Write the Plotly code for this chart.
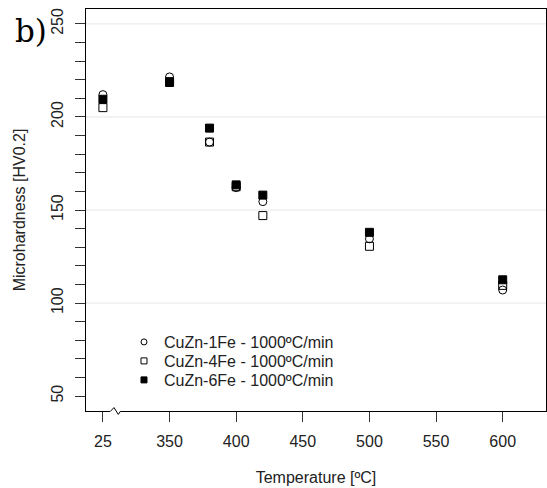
import plotly.graph_objects as go

# Annealing temperature (ºC) and Vickers microhardness (HV0.2)
temperatures = [25, 350, 380, 400, 420, 500, 600]
hv_cuzn_1fe = [212, 221.5, 186.5, 162, 154.5, 134.5, 107]
hv_cuzn_4fe = [205, 219, 186.5, 162.5, 147, 130.5, 109.5]
hv_cuzn_6fe = [209.5, 218.5, 194, 163.5, 158, 138, 112.5]

series_names = [
    "CuZn-1Fe - 1000ºC/min",
    "CuZn-4Fe - 1000ºC/min",
    "CuZn-6Fe - 1000ºC/min",
]
x_ticks = [25, 350, 400, 450, 500, 550, 600]
y_ticks = [50, 100, 150, 200, 250]
y_grid = [100, 150, 200, 250]

# Broken temperature axis: room temperature sits just left of 350 ºC
BREAK_POS = 300


def axis_pos(t):
    return BREAK_POS if t < BREAK_POS else t


x_plot = [axis_pos(t) for t in temperatures]
x_tickvals = [axis_pos(t) for t in x_ticks]

symbols = ["circle-open", "square-open", "square"]
series = [hv_cuzn_1fe, hv_cuzn_4fe, hv_cuzn_6fe]
legend_ids = ["legend", "legend2", "legend3"]
legend_rows = [0.1716, 0.1244, 0.0771]

font_main = dict(family="Liberation Sans, Arial, sans-serif", size=16, color="#222")

fig = go.Figure()

for name, values, sym in zip(series_names, series, symbols):
    fig.add_trace(go.Scatter(
        x=x_plot, y=values, mode="markers", name=name, showlegend=False,
        marker=dict(symbol=sym, size=8, color="black",
                    line=dict(color="black", width=1)),
    ))

# Legend entries with smaller symbols, one compact row each
for name, sym, lid in zip(series_names, symbols, legend_ids):
    fig.add_trace(go.Scatter(
        x=[None], y=[None], mode="markers", name=name, legend=lid,
        marker=dict(symbol=sym, size=6, color="black",
                    line=dict(color="black", width=1)),
    ))

legend_style = dict(x=0.0826, xanchor="left", yanchor="middle",
                    bgcolor="rgba(0,0,0,0)", font=dict(size=16, color="#222"),
                    itemwidth=30)
fig.update_layout(**{lid: dict(y=yr, **legend_style)
                     for lid, yr in zip(legend_ids, legend_rows)})

for g in y_grid:
    fig.add_hline(y=g, line=dict(color="#e6e6e6", width=1), layer="below")

# Axis break mark on the bottom frame
fig.add_shape(type="line", xref="paper", yref="paper",
              x0=0.053, x1=0.076, y0=0, y1=0,
              line=dict(color="white", width=3))
fig.add_shape(type="path", xref="paper", yref="paper",
              path="M 0.0537 0 L 0.0609 0.0085 L 0.0702 -0.0085 L 0.0754 0",
              line=dict(color="black", width=1))

fig.add_annotation(text="b)", xref="paper", yref="paper",
                   x=-0.158, y=0.995, xanchor="left", yanchor="top",
                   showarrow=False,
                   font=dict(family="DejaVu Serif", size=31, color="black"))

fig.update_xaxes(
    range=[287.3, 632.5], tickvals=x_tickvals, ticktext=[str(t) for t in x_ticks],
    showgrid=False, zeroline=False,
    showline=True, mirror=True, linecolor="black", linewidth=1,
    ticks="outside", ticklen=10, tickcolor="#333", tickwidth=1,
    tickfont=font_main, ticklabelstandoff=6,
    title=dict(text="Temperature [ºC]", font=font_main, standoff=22),
)
fig.update_yaxes(
    range=[42, 258], tickvals=y_ticks, ticktext=[str(v) for v in y_ticks],
    tickangle=-90,
    showgrid=False, zeroline=False,
    showline=True, mirror=True, linecolor="black", linewidth=1,
    ticks="outside", ticklen=10, tickcolor="#333", tickwidth=1,
    minor=dict(tickvals=[v for v in range(60, 250, 10) if v % 50],
               ticks="outside", ticklen=10, tickcolor="#333", tickwidth=1,
               showgrid=False),
    tickfont=font_main, ticklabelstandoff=6,
    title=dict(text="Microhardness [HV0.2]", font=font_main, standoff=18),
)

fig.update_layout(
    width=547, height=488,
    margin=dict(l=86, r=1, t=9, b=77),
    paper_bgcolor="white", plot_bgcolor="white",
    font=font_main,
    showlegend=True,
)

fig.write_html("out.html")
